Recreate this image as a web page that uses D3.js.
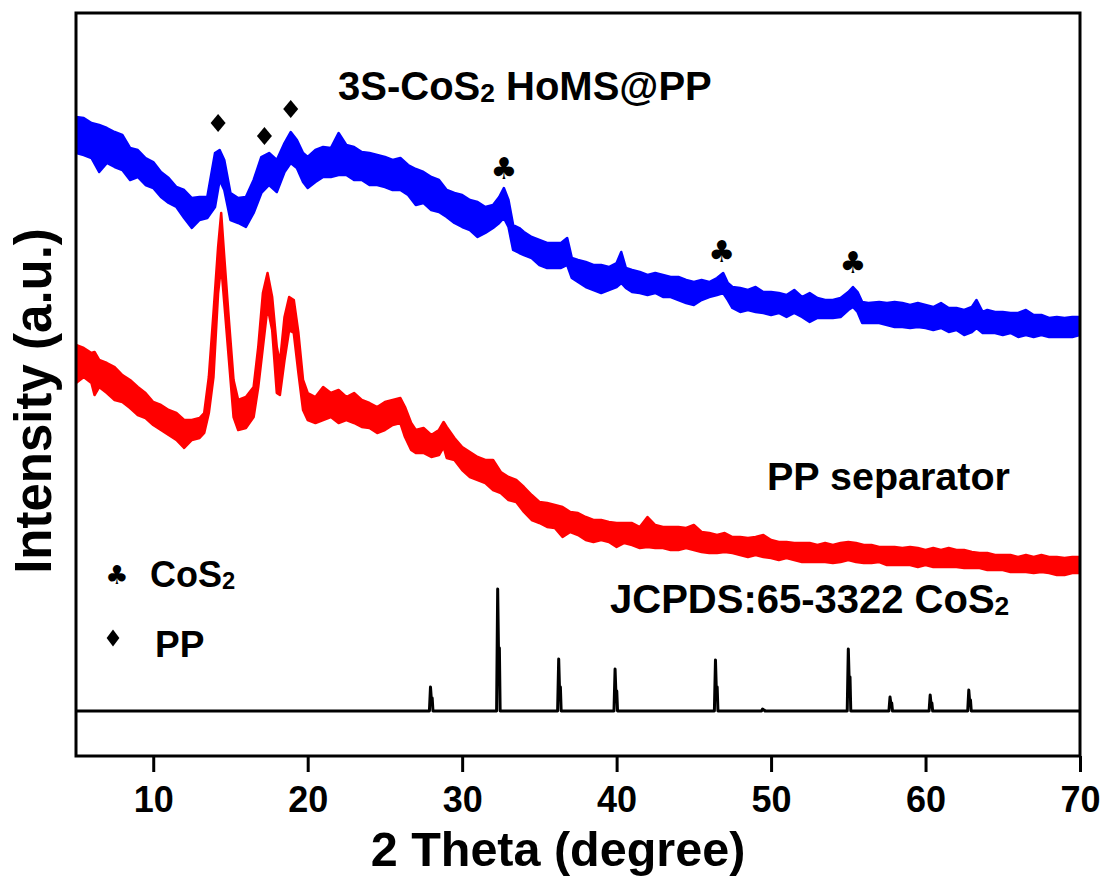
<!DOCTYPE html>
<html><head><meta charset="utf-8">
<script src="https://cdn.jsdelivr.net/npm/d3@7"></script>
<style>
body{margin:0;background:#fff}
svg{display:block}
text{font-family:"Liberation Sans",Arial,sans-serif;font-weight:bold;fill:#000}
</style>
</head><body>
<svg id="c" width="1107" height="877"></svg>
<script>
// ---------- data (2θ in degree, intensity in arbitrary units) ----------
const blueTheta=[5,5.5,6,6.5,7,7.5,8,8.5,9,9.5,10,10.5,11,11.5,12,12.5,13,13.5,14,
14.3,14.6,15,15.5,16,16.5,17,17.5,18,18.5,
18.9,19.3,19.7,20,20.5,21,21.5,22,22.5,23,
23.5,24,24.5,25,25.5,26,26.5,27,27.5,28,
28.5,29,29.5,30,30.5,31,31.5,32,32.4,32.7,
33,33.3,33.7,34,34.5,35,35.5,36,36.4,36.8,
37.1,37.5,38,38.5,39,39.5,40,40.3,40.6,41,
41.5,42,42.5,43,43.5,44,44.5,45,45.5,46,
46.5,46.9,47.2,47.5,48,48.5,49,49.5,50,50.5,
51,51.5,52,52.5,53,53.5,54,54.5,55,55.3,
55.6,55.9,56.3,57,57.5,58,58.5,59,59.5,60,
60.5,61,61.5,62,62.5,63,63.3,63.7,64,64.5,
65,65.5,66,66.5,67,67.5,68,68.5,69,69.5,70];
const blueTop=[639,638,633,631,628,624,621,608,606,598,594,584,578,569,566,558,559,559,603,
606,596,563,558,559,576,599,603,596,613,
624,616,603,599,606,609,608,623,611,609,
604,603,601,599,596,598,591,587,584,579,
576,566,563,561,556,554,549,551,559,568,
556,531,528,524,519,516,513,513,513,518,
498,496,494,491,491,489,493,504,488,486,
484,481,483,481,479,479,476,474,476,474,
478,483,473,469,468,466,469,464,464,463,
461,466,459,463,458,456,456,458,464,469,
464,454,453,454,453,454,453,451,453,451,
449,453,448,448,446,449,456,444,446,444,
444,443,443,446,441,441,438,439,438,439,439];
const blueBottom=[603,601,598,584,593,589,586,576,579,571,568,559,553,549,538,528,536,538,549,
576,566,536,533,529,543,563,571,564,584,
593,588,574,568,574,579,579,581,581,576,
576,571,571,569,566,566,561,551,553,546,
544,539,533,529,526,519,523,528,533,538,
529,506,503,501,498,491,488,488,488,491,
478,474,469,466,463,466,469,473,468,464,
463,461,463,459,459,456,453,451,456,459,
461,463,456,448,444,446,444,443,441,443,
439,443,439,434,438,438,438,439,446,449,
444,433,433,433,431,429,429,428,429,428,
426,428,424,426,421,424,428,423,423,423,
421,423,419,421,419,421,419,419,419,419,421];

const redTheta=[5,5.5,6,6.2,6.5,7,7.5,8,8.5,9,
9.5,10,10.5,11,11.5,12,12.5,13,13.3,13.6,
13.9,14.2,14.4,14.6,14.9,15.2,15.5,16,16.5,16.8,
17.1,17.4,17.7,18,18.2,18.5,18.8,19.1,19.4,19.7,
20,20.5,21,21.5,22,22.5,23,23.5,24,24.5,
25,25.5,26,26.3,26.7,27,27.5,28,28.5,28.8,
29,29.5,30,30.5,31,31.5,32,32.5,33,33.5,
34,34.5,35,35.5,36,36.5,37,37.5,38,38.5,
39,39.5,40,40.5,41,41.5,42,42.5,43,43.5,
44,44.5,45,45.5,46,46.5,47,47.5,48,48.5,
49,49.5,50,50.5,51,51.5,52,52.5,53,53.5,
54,54.5,55,55.5,56,56.5,57,57.5,58,58.5,
59,59.5,60,60.5,61,61.5,62,62.5,63,63.5,
64,64.5,65,65.5,66,66.5,67,67.5,68,68.5,
69,69.5,70];
const redTop=[411,408,403,404,396,393,389,381,376,369,
363,354,351,346,343,336,336,338,343,379,
443,509,543,499,436,376,356,359,369,409,
463,483,459,409,393,439,459,456,423,376,
363,359,369,363,366,359,363,356,353,349,
354,356,358,349,333,326,328,321,326,334,
329,318,309,304,299,296,296,284,279,276,
269,261,254,253,251,249,244,243,239,236,
236,234,233,233,233,229,239,231,229,229,
229,228,231,224,223,221,223,219,219,218,
219,221,216,214,214,213,213,213,211,213,
211,213,214,213,211,211,209,209,209,208,
209,208,206,208,206,208,206,206,204,203,
203,201,201,201,199,201,199,201,199,199,
198,199,199];
const redBottom=[373,379,373,361,369,363,356,354,348,341,
338,331,326,321,316,308,316,318,323,343,
379,463,491,453,396,339,326,328,339,369,
409,449,426,363,361,396,426,423,383,346,
336,333,336,339,333,336,333,329,328,323,
326,331,333,319,306,303,303,299,301,309,
298,296,286,279,276,273,266,263,256,254,
244,236,233,229,228,219,224,221,216,214,
216,214,209,213,211,208,209,208,208,206,
206,208,206,204,203,203,204,203,201,199,
201,199,198,196,198,196,194,194,194,194,
193,194,196,194,193,193,194,191,191,191,
191,189,191,189,189,189,189,188,188,188,
186,186,186,184,184,184,183,184,183,181,
181,183,183];

// JCPDS 65-3322 CoS2 reference pattern (Kα1 and Kα2 line heights)
const jcpdsBase=45;
const jcpdsTheta=[27.95,32.3,36.25,39.9,46.4,49.45,55.0,57.7,60.3,62.8];
const jcpdsKa1=[69,167,97,87,96,47,107,59,61,66];
const jcpdsKa2=[58,108,69,65,69,46,79,53,53,56];

// peak markers
const ppMarkTheta=[14.2,17.2,18.9];
const ppMarkI=[633,620,647];
const cosMarkTheta=[32.7,46.8,55.3];
const cosMarkI=[588,505,494];

const xTicks=[10,20,30,40,50,60,70];

// ---------- chart ----------
const L=76,R=1080,T=13,B=756;
const x=d3.scaleLinear().domain([5,70]).range([L,R]);
const y=d3.scaleLinear().domain([0,743]).range([B,T]);
const svg=d3.select('#c');
svg.append('rect').attr('width',1107).attr('height',877).attr('fill','#fff');
svg.append('defs').append('clipPath').attr('id','clip')
  .append('rect').attr('x',L).attr('y',T).attr('width',R-L).attr('height',B-T);
const g=svg.append('g').attr('clip-path','url(#clip)');

function band(theta,top,bot,color){
  const data=theta.map((t,i)=>({t:t,hi:top[i],lo:bot[i]}));
  const area=d3.area().x(d=>x(d.t)).y0(d=>y(d.lo)).y1(d=>y(d.hi));
  g.append('path').datum(data).attr('d',area)
    .attr('fill',color).attr('stroke',color).attr('stroke-width',2.5)
    .attr('stroke-linejoin','round');
}
band(blueTheta,blueTop,blueBottom,'#0000ff');
band(redTheta,redTop,redBottom,'#ff0000');

// JCPDS stick pattern
const pts=[[5,jcpdsBase]];
jcpdsTheta.forEach((t,i)=>{
  pts.push([t-0.07,jcpdsBase],[t,jcpdsKa1[i]],[t+0.05,jcpdsKa2[i]],[t+0.11,jcpdsKa2[i]],[t+0.16,jcpdsBase]);
});
pts.push([70,jcpdsBase]);
g.append('path').datum(pts)
  .attr('d',d3.line().x(d=>x(d[0])).y(d=>y(d[1])))
  .attr('fill','none').attr('stroke','#000').attr('stroke-width',3).attr('stroke-linejoin','round');

// markers
const diamond='M0,-9L7.5,0L0,9L-7.5,0Z';
ppMarkTheta.forEach((t,i)=>{
  svg.append('path').attr('d',diamond).attr('transform',`translate(${x(t)},${y(ppMarkI[i])})`).attr('fill','#000');
});
cosMarkTheta.forEach((t,i)=>{
  svg.append('text').text('\u2663').attr('x',x(t)).attr('y',y(cosMarkI[i]))
    .attr('text-anchor','middle').attr('dominant-baseline','central')
    .style('font-family','"DejaVu Sans"').style('font-weight','normal').style('font-size','30px');
});

// frame
svg.append('rect').attr('x',L).attr('y',T).attr('width',R-L).attr('height',B-T)
  .attr('fill','none').attr('stroke','#000').attr('stroke-width',3);

// x axis
const ax=svg.append('g').attr('transform',`translate(0,${B})`)
  .call(d3.axisBottom(x).tickValues(xTicks).tickSize(16).tickPadding(14).tickFormat(d3.format('d')));
ax.select('.domain').remove();
ax.selectAll('line').attr('stroke','#000').attr('stroke-width',3);
ax.selectAll('text').style('font-size','36px').style('font-family','"Liberation Sans",Arial,sans-serif').style('font-weight','bold');

// axis titles
svg.append('text').text('2 Theta (degree)').attr('x',558).attr('y',866)
  .attr('text-anchor','middle').style('font-size','48.5px');
svg.append('text').text('Intensity (a.u.)').attr('transform','translate(51,401) rotate(-90)')
  .attr('text-anchor','middle').style('font-size','51px');

// annotations
function sub(sel,main,subTxt,after,size){
  sel.append('tspan').text(main);
  sel.append('tspan').text(subTxt).style('font-size',(size*0.66)+'px').attr('dy',2);
  if(after) sel.append('tspan').text(after).attr('dy',-2);
}
const t1=svg.append('text').attr('x',338).attr('y',100).style('font-size','40px');
sub(t1,'3S-CoS','2',' HoMS@PP',40);
svg.append('text').text('PP separator').attr('x',767).attr('y',490).style('font-size','39.5px');
const t3=svg.append('text').attr('x',610).attr('y',613).style('font-size','40px');
sub(t3,'JCPDS:65-3322 CoS','2','',40);

// legend
svg.append('text').text('\u2663').attr('x',117).attr('y',575)
  .attr('text-anchor','middle').attr('dominant-baseline','central')
  .style('font-family','"DejaVu Sans"').style('font-weight','normal').style('font-size','26px');
const lg=svg.append('text').attr('x',150).attr('y',587).style('font-size','36px');
sub(lg,'CoS','2','',36);
svg.append('path').attr('d',diamond).attr('transform','translate(113,638) scale(0.85,0.95)').attr('fill','#000');
svg.append('text').text('PP').attr('x',155).attr('y',657).style('font-size','37px');
</script>
</body></html>
